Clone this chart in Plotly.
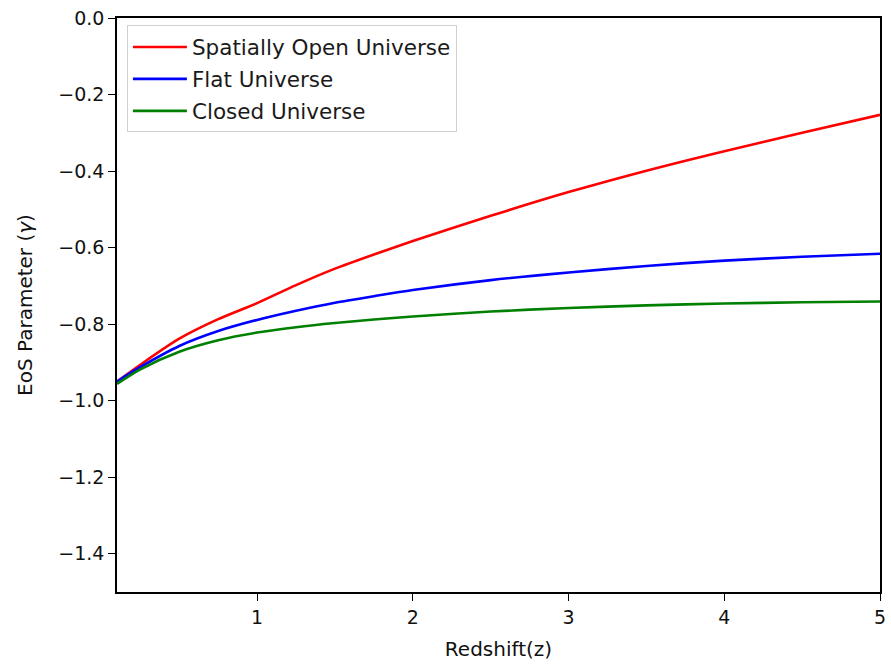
import plotly.graph_objects as go

# Redshift samples
z = [0.1, 0.25, 0.5, 0.75, 1.0, 1.25, 1.5, 1.75, 2.0, 2.5, 3.0, 3.5, 4.0, 4.5, 5.0]

# EoS parameter values
open_universe = [-0.950, -0.906, -0.838, -0.787, -0.745, -0.698, -0.655, -0.618,
                 -0.583, -0.517, -0.455, -0.399, -0.348, -0.300, -0.253]
flat_universe = [-0.950, -0.912, -0.857, -0.818, -0.789, -0.765, -0.744, -0.727,
                 -0.711, -0.685, -0.665, -0.648, -0.634, -0.624, -0.616]
closed_universe = [-0.956, -0.918, -0.872, -0.842, -0.822, -0.808, -0.797, -0.788,
                   -0.780, -0.767, -0.758, -0.751, -0.746, -0.743, -0.741]

series_names = ["Spatially Open Universe", "Flat Universe", "Closed Universe"]
series_colors = ["#ff0000", "#0000ff", "#008000"]
x_ticks = [1, 2, 3, 4, 5]
y_ticks = [0.0, -0.2, -0.4, -0.6, -0.8, -1.0, -1.2, -1.4]

FONT = "DejaVu Sans, Liberation Sans, sans-serif"

fig = go.Figure()
for name, vals, col in zip(series_names, [open_universe, flat_universe, closed_universe], series_colors):
    fig.add_trace(go.Scatter(x=z, y=vals, mode="lines", name=name,
                             legendgroup=name,
                             line=dict(color=col, width=2.6, shape="spline", smoothing=0.8)))

fig.update_layout(
    width=891, height=664,
    margin=dict(l=117, r=11, t=18, b=72),
    paper_bgcolor="white", plot_bgcolor="white",
    font=dict(family=FONT, size=19, color="#111111"),
    showlegend=True,
    legend=dict(x=0.013, y=0.987, xanchor="left", yanchor="top",
                bgcolor="rgba(255,255,255,0.8)", bordercolor="#d0d0d0", borderwidth=1,
                font=dict(family=FONT, size=21.5, color="#1a1a1a"),
                itemwidth=54, tracegroupgap=1),
    xaxis=dict(range=[0.1, 5], tickvals=x_ticks, ticks="outside", ticklen=7, tickwidth=1.4,
               tickcolor="black", showline=True, linecolor="black", linewidth=1.5, mirror=True,
               showgrid=False, zeroline=False, automargin=False,
               title=dict(text="Redshift(z)", standoff=15, font=dict(size=20))),
    yaxis=dict(range=[-1.5, 0], tickvals=y_ticks, tickformat=".1f", ticks="outside", ticklen=7,
               tickwidth=1.4, tickcolor="black", showline=True, linecolor="black", linewidth=1.5,
               mirror=True, showgrid=False, zeroline=False, automargin=False,
               title=dict(text="EoS Parameter (<i>γ</i>)", standoff=20, font=dict(size=20))),
)

fig.write_html("out.html", config={"displayModeBar": False},
               post_script="document.body.style.margin='0';document.body.style.overflow='hidden';")
